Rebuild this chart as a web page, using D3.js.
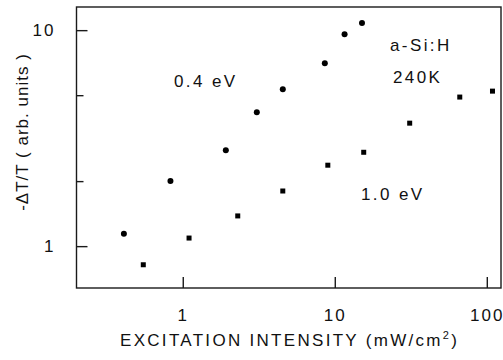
<!DOCTYPE html>
<html><head><meta charset="utf-8">
<script src="https://cdn.jsdelivr.net/npm/d3@7"></script>
<style>
html,body{margin:0;padding:0;background:#fff;}
text{font-family:"Liberation Sans",Arial,sans-serif;fill:#111;}
</style></head>
<body><svg id="c" width="503" height="360"></svg>
<script>
// Data
const circlesX = [0.41, 0.83, 1.92, 3.07, 4.55, 8.6, 11.6, 15.1];
const circlesY = [1.14, 2.0, 2.78, 4.17, 5.33, 7.03, 9.58, 10.8];
const squaresX = [0.55, 1.1, 2.3, 4.55, 9.0, 15.5, 31.1, 66.4, 109];
const squaresY = [0.82, 1.09, 1.38, 1.80, 2.37, 2.72, 3.71, 4.90, 5.22];
const xTickValues = [1, 10, 100];
const xTickLabels = ["1", "10", "100"];
const yMajorTicks = [1, 10];
const yMajorLabels = ["1", "10"];
const yMinorTicks = [2, 5];

const svg = d3.select("#c");
const L = 76.5, R = 501, T = 7, B = 288;
const x = d3.scaleLog().domain([0.2, 124]).range([L, R]);
const y = d3.scaleLog().domain([0.64, 12.8]).range([B, T]);

const ink = "#1a1a1a";

// frame
svg.append("rect").attr("x", L).attr("y", T).attr("width", R - L).attr("height", B - T)
  .attr("fill", "none").attr("stroke", ink).attr("stroke-width", 1.4);

// x axis
const gx = svg.append("g").attr("transform", `translate(0,${B})`)
  .call(d3.axisBottom(x).tickValues(xTickValues)
    .tickFormat((d, i) => xTickLabels[i]).tickSizeInner(-11).tickSizeOuter(0).tickPadding(21));
gx.select(".domain").remove();
gx.selectAll(".tick line").attr("stroke", ink).attr("stroke-width", 1.4);
gx.selectAll(".tick text").attr("font-size", 17).attr("letter-spacing", "2px")
  .attr("font-family", "Liberation Sans, Arial, sans-serif").attr("fill", ink);

// y axis major
const gy = svg.append("g").attr("transform", `translate(${L},0)`)
  .call(d3.axisLeft(y).tickValues(yMajorTicks)
    .tickFormat((d, i) => yMajorLabels[i]).tickSizeInner(-11).tickSizeOuter(0).tickPadding(21));
gy.select(".domain").remove();
gy.selectAll(".tick line").attr("stroke", ink).attr("stroke-width", 1.4);
gy.selectAll(".tick text").attr("font-size", 17).attr("letter-spacing", "2px")
  .attr("font-family", "Liberation Sans, Arial, sans-serif").attr("fill", ink);

// y axis minor
const gy2 = svg.append("g").attr("transform", `translate(${L},0)`)
  .call(d3.axisLeft(y).tickValues(yMinorTicks).tickFormat("").tickSizeInner(-7).tickSizeOuter(0));
gy2.select(".domain").remove();
gy2.selectAll(".tick line").attr("stroke", ink).attr("stroke-width", 1.4);

// data: circles
svg.append("g").selectAll("circle").data(circlesX).join("circle")
  .attr("cx", d => x(d)).attr("cy", (d, i) => y(circlesY[i])).attr("r", 3).attr("fill", "#000");

// data: squares
const s = 5;
svg.append("g").selectAll("rect").data(squaresX).join("rect")
  .attr("x", d => x(d) - s / 2).attr("y", (d, i) => y(squaresY[i]) - s / 2)
  .attr("width", s).attr("height", s).attr("fill", "#000");

// annotations
const ann = (txt, px, py) => svg.append("text").attr("x", px).attr("y", py)
  .attr("font-size", 17).attr("letter-spacing", "2.4px").text(txt);
ann("0.4 eV", 174, 87);
ann("a-Si:H", 390, 51);
ann("240K", 393, 83);
ann("1.0 eV", 361, 200);

// x title
const xt = svg.append("text").attr("x", 120).attr("y", 346).attr("font-size", 17)
  .attr("letter-spacing", "2.3px");
xt.append("tspan").text("EXCITATION INTENSITY (mW/cm");
xt.append("tspan").attr("font-size", 11).attr("dy", -7).text("2");
xt.append("tspan").attr("dy", 7).text(")");

// y title
svg.append("text").attr("transform", "translate(28,132) rotate(-90)")
  .attr("text-anchor", "middle").attr("font-size", 17).attr("letter-spacing", "1px")
  .text("-\u0394T/T ( arb. units )");
</script></body></html>
